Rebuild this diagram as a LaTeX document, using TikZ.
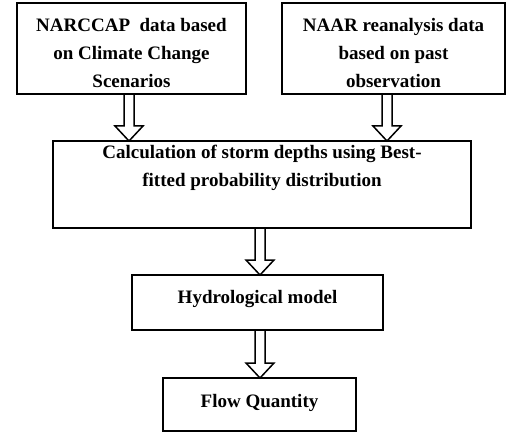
\documentclass[tikz,border=0pt]{standalone}
\usepackage{fontspec}
\setmainfont{Liberation Serif}
\usetikzlibrary{calc}

\begin{document}
\begin{tikzpicture}[
    x=1pt, y=1pt,
    stepbox/.style={draw,line width=1.6pt,anchor=north west,outer sep=0pt,inner sep=0pt,
        align=center,font=\bfseries\fontsize{19}{28}\selectfont},
    hollow arrow/.style={line width=1.5pt,
        to path={let \p1=(\tikztostart), \p2=(\tikztotarget) in
            (\x1-5pt,\y1) -- (\x1-5pt,\y2+15pt) -- (\x1-14pt,\y2+15pt) -- (\x1,\y2)
            -- (\x1+14pt,\y2+15pt) -- (\x1+5pt,\y2+15pt) -- (\x1+5pt,\y1)}}
]
\useasboundingbox (0,0) rectangle (514,-433);

\node[stepbox,minimum width=229pt,minimum height=91pt] (narccap) at (17,-3)
    {\rule{0pt}{23pt}NARCCAP\ \ data based\\on Climate Change\\Scenarios};
\node[stepbox,minimum width=223pt,minimum height=91pt] (naar) at (282,-3)
    {\rule{0pt}{23pt}NAAR reanalysis data\\based on past\\observation};

\node[stepbox,minimum width=418pt,minimum height=87pt] (storm) at (53,-141)
    {Calculation of storm depths using Best-\\fitted probability distribution\rule[-38pt]{0pt}{38pt}};

\node[stepbox,minimum width=251pt,minimum height=55pt] (hydro) at (132,-275)
    {Hydrological model\rule[-12pt]{0pt}{12pt}};

\node[stepbox,minimum width=193pt,minimum height=53pt] (flow) at (163,-378)
    {Flow Quantity\rule[-8pt]{0pt}{8pt}};

\draw[hollow arrow] ([xshift=-2.5pt]narccap.south) to (storm.north);
\draw[hollow arrow] ([xshift=-6.5pt]naar.south) to (storm.north);
\draw[hollow arrow] ([xshift=-2pt]storm.south) to (hydro.north);
\draw[hollow arrow] ([xshift=2.5pt]hydro.south) to (flow.north);

\end{tikzpicture}
\end{document}
